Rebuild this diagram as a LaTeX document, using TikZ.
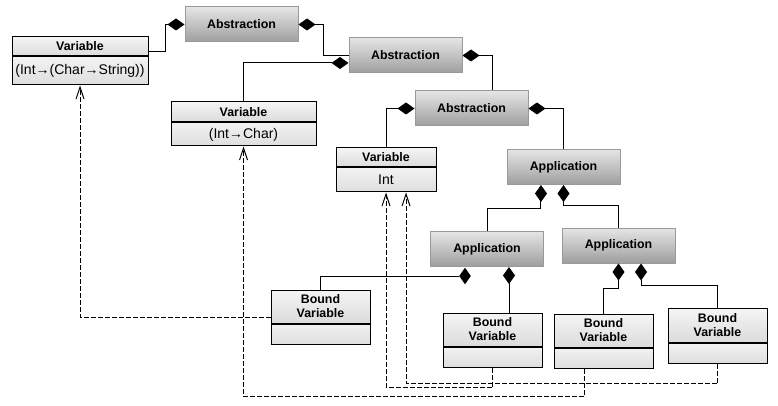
\documentclass[tikz,border=0pt]{standalone}
\usepackage{fontspec}
\setmainfont{Liberation Sans}
\usetikzlibrary{arrows.meta,shapes.geometric}
\tikzset{
  px/.style 2 args={minimum width=#1*0.75pt, minimum height=#2*0.75pt},
  opbox/.style={draw=black!40, top color=black!10, bottom color=black!38, inner sep=0pt,
    font=\fontsize{9.3}{10.5}\selectfont\bfseries, px={113}{35}},
  namebox/.style={draw, top color=black!4, bottom color=black!14, inner sep=0pt, align=center,
    font=\fontsize{9.3}{10.5}\selectfont\bfseries},
  typebox/.style={draw, top color=black!5, bottom color=black!13, inner sep=0pt,
    font=\fontsize{10.5}{12}\selectfont},
  owns/.style={{Diamond[length=12.75pt,width=9pt]}-},
  uses/.style={dash pattern=on 3.75pt off 1.5pt, -{Straight Barb[length=9pt,width=6pt]}},
  ownmark/.style={diamond, fill=black, inner sep=0pt, px={12}{17}}
}
\begin{document}
\begin{tikzpicture}[x=0.75pt,y=-0.75pt,line width=0.75pt]
\useasboundingbox (0,0) rectangle (778,406);
% terms
\node[opbox] (abs1) at (241.5,24.5) {Abstraction};
\node[opbox] (abs2) at (405.5,55.5) {Abstraction};
\node[opbox] (abs3) at (471.5,108.5) {Abstraction};
\node[opbox] (app1) at (563.5,167) {Application};
\node[opbox] (app2) at (618.5,245.5) {Application};
\node[opbox] (app3) at (487,249) {Application};
% variables
\node[namebox, px={136}{19}] (var1) at (80,46.5) {Variable};
\node[typebox, px={136}{28}, anchor=north] (var1t) at (var1.south) {(Int→(Char→String))};
\node[namebox, px={145}{20}] (var2) at (243.5,112) {Variable};
\node[typebox, px={145}{23}, anchor=north] (var2t) at (var2.south) {(Int→Char)};
\node[namebox, px={100}{19}] (var3) at (386,157.5) {Variable};
\node[typebox, px={100}{24}, anchor=north] (var3t) at (var3.south) {Int};
% bound variables
\node[namebox, px={99}{33}] (bv1) at (320.5,306.5) {Bound\\Variable};
\node[typebox, px={99}{20}, anchor=north] (bv1t) at (bv1.south) {};
\node[namebox, px={99}{33}] (bv2) at (492.5,329.5) {Bound\\Variable};
\node[typebox, px={99}{20}, anchor=north] (bv2t) at (bv2.south) {};
\node[namebox, px={99}{33}] (bv3) at (603.5,330.5) {Bound\\Variable};
\node[typebox, px={99}{20}, anchor=north] (bv3t) at (bv3.south) {};
\node[namebox, px={99}{34}] (bv4) at (717.5,325) {Bound\\Variable};
\node[typebox, px={99}{20}, anchor=north] (bv4t) at (bv4.south) {};
% composition
\draw[owns] (abs1.west) -- ++(-19,0) |- ([yshift=-3.9pt]var1.east);
\draw[owns] (abs1.east) -- ++(25,0) |- (abs2.west);
\draw[owns] ([yshift=-5.6pt]abs2.west) -| (var2.north);
\draw[owns] (abs2.east) -| ([xshift=16.1pt]abs3.north);
\draw[owns] (abs3.west) -| (var3.north);
\draw[owns] (abs3.east) -| (app1.north);
\draw[owns] ([xshift=-16.9pt]app1.south) -- ++(0,23) -| (app3.north);
\draw[owns] (app1.south) -- ++(0,21) -| (app2.north);
\draw[owns] (app2.south) -- ++(0,25) -| (bv3.north);
\draw[owns] ([xshift=16.9pt]app2.south) -- ++(0,22) -| (bv4.north);
\node[ownmark, anchor=north] (mk) at ([xshift=-16.5pt]app3.south) {};
\draw (mk.west) -| (bv1.north);
\coordinate (j) at ([xshift=16.5pt]app3.south);
\draw[owns] (j) -- (j |- bv2.north);
% binding
\draw[uses] ([yshift=-7.9pt]bv1.west) -| (var1t.south);
\draw[uses] (bv2t.south) -- ++(0,20) -| (var3t.south);
\draw[uses] (bv4t.south) -- ++(0,20) -| ([xshift=15pt]var3t.south);
\draw[uses] ([xshift=-14.6pt]bv3t.south) -- ++(0,28) -| (var2t.south);
\end{tikzpicture}
\end{document}
